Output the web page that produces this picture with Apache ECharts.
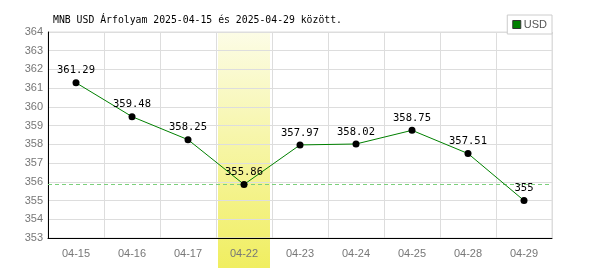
<!DOCTYPE html>
<html><head><meta charset="utf-8">
<script src="https://cdn.jsdelivr.net/npm/echarts@6/dist/echarts.min.js"></script>
<style>html,body{margin:0;padding:0;background:#fff}#c{width:600px;height:270px}</style>
</head><body><div id="c"></div>
<script>
var categories = ['04-15','04-16','04-17','04-22','04-23','04-24','04-25','04-28','04-29'];
var usdValues = [361.29, 359.48, 358.25, 355.86, 357.97, 358.02, 358.75, 357.51, 355];
var highlightIndex = 3;
var refValue = 355.86;
var titleText = 'MNB USD Árfolyam 2025-04-15 és 2025-04-29 között.';

var chart = echarts.init(document.getElementById('c'), null, {renderer:'canvas'});
var option = {
  animation: false,
  backgroundColor: '#fff',
  title: {text: titleText, left: 48, top: 10,
    textStyle: {fontFamily: 'DejaVu Sans Mono', fontSize: 9.8, fontWeight: 'normal', color: '#000'}},
  legend: {data: ['USD'], right: 48, top: 15, orient: 'vertical',
    backgroundColor: '#fff', borderColor: '#ccc', borderWidth: 1, borderRadius: 0, padding: [4,5,4,5],
    itemWidth: 8, itemHeight: 8, itemGap: 4, icon: 'rect',
    itemStyle: {color: '#008000', borderColor: '#333', borderWidth: 1},
    textStyle: {fontFamily: 'Liberation Sans', fontSize: 11, color: '#555', padding: [0,0,0,-2]}},
  grid: {left: 48, right: 48, top: 32, bottom: 32, containLabel: false,
    show: true, borderColor: '#ddd', borderWidth: 1},
  xAxis: {type: 'category', data: categories, boundaryGap: true,
    axisLine: {lineStyle: {color: '#000'}}, axisTick: {show: false},
    axisLabel: {color: '#777', fontFamily: 'Liberation Sans', fontSize: 11, margin: 10},
    splitLine: {show: true, lineStyle: {color: '#ddd'}}},
  yAxis: {type: 'value', min: 353, max: 364, interval: 1,
    axisLine: {show: true, lineStyle: {color: '#000'}}, axisTick: {show: false},
    axisLabel: {color: '#777', fontFamily: 'Liberation Sans', fontSize: 11, margin: 5},
    splitLine: {lineStyle: {color: '#ddd'}}},
  series: [{
    name: 'USD', type: 'line', data: usdValues, z: 5,
    symbol: 'circle', symbolSize: 7,
    itemStyle: {color: '#000'},
    lineStyle: {color: '#008000', width: 1},
    label: {show: true, position: 'top', distance: 3, color: '#000',
      fontFamily: 'DejaVu Sans Mono', fontSize: 10.5},
    markLine: {silent: true, symbol: 'none', label: {show: false},
      lineStyle: {color: '#7cd07c', type: [4,3], width: 1},
      data: [{yAxis: refValue}]}
  }]
};
chart.setOption(option);
var x0 = chart.convertToPixel({xAxisIndex:0}, categories[highlightIndex]);
var x1 = chart.convertToPixel({xAxisIndex:0}, categories[highlightIndex+1]);
var w = (x1 - x0);
var yTop = chart.convertToPixel({yAxisIndex:0}, 364);
chart.setOption({graphic: [{type: 'rect', z: -1, silent: true,
  shape: {x: x0 - w/2 + 2, y: yTop, width: w - 4, height: 268 - yTop},
  style: {fill: new echarts.graphic.LinearGradient(0,0,0,1,[
    {offset:0, color:'#fcfce6'},{offset:1, color:'#f0ee60'}])}}]});
</script></body></html>
